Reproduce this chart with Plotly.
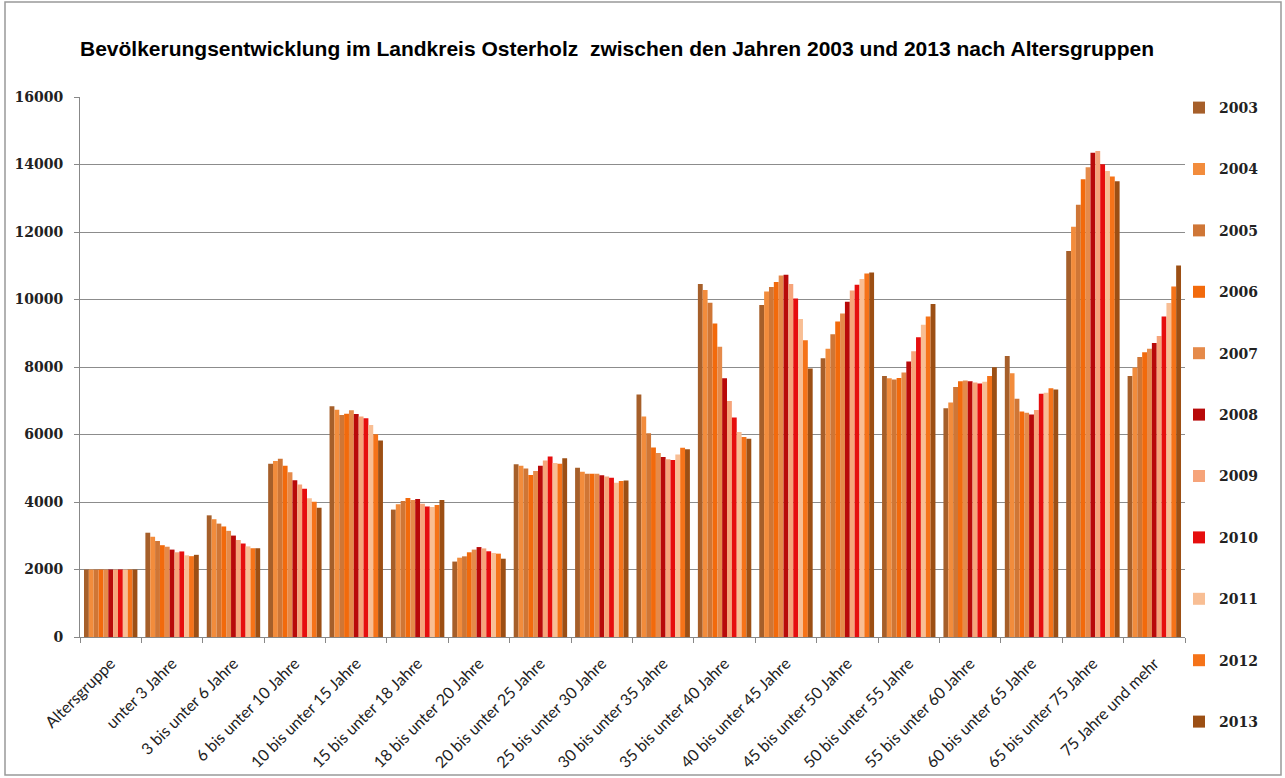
import plotly.graph_objects as go

categories = ["Altersgruppe", "unter 3 Jahre", "3 bis unter 6 Jahre", "6 bis unter 10 Jahre",
              "10 bis unter 15 Jahre", "15 bis unter 18 Jahre", "18 bis unter 20 Jahre",
              "20 bis unter 25 Jahre", "25 bis unter 30 Jahre", "30 bis unter 35 Jahre",
              "35 bis unter 40 Jahre", "40 bis unter 45 Jahre", "45 bis unter 50 Jahre",
              "50 bis unter 55 Jahre", "55 bis unter 60 Jahre", "60 bis unter 65 Jahre",
              "65 bis unter 75 Jahre", "75 Jahre und mehr"]

years = ["2003", "2004", "2005", "2006", "2007", "2008", "2009", "2010", "2011", "2012", "2013"]

y_ticks = [0, 2000, 4000, 6000, 8000, 10000, 12000, 14000, 16000]

# values per age group, one entry per year 2003..2013
g_alter = [2000, 2000, 2000, 2000, 2000, 2000, 2000, 2000, 2000, 2000, 2000]
g_u3 = [3090, 2970, 2845, 2720, 2675, 2590, 2510, 2535, 2420, 2395, 2435]
g_3_6 = [3605, 3490, 3360, 3275, 3145, 3005, 2875, 2770, 2685, 2630, 2630]
g_6_10 = [5130, 5215, 5280, 5075, 4885, 4645, 4520, 4390, 4110, 4005, 3830]
g_10_15 = [6840, 6730, 6575, 6615, 6720, 6605, 6530, 6480, 6285, 6005, 5825]
g_15_18 = [3775, 3930, 4030, 4115, 4060, 4090, 3950, 3870, 3850, 3910, 4060]
g_18_20 = [2235, 2350, 2390, 2510, 2590, 2665, 2625, 2540, 2490, 2470, 2320]
g_20_25 = [5115, 5075, 4995, 4800, 4915, 5075, 5230, 5350, 5155, 5135, 5295]
g_25_30 = [5015, 4895, 4835, 4835, 4835, 4795, 4755, 4715, 4570, 4620, 4640]
g_30_35 = [7185, 6535, 6040, 5615, 5455, 5330, 5265, 5245, 5410, 5605, 5565]
g_35_40 = [10460, 10280, 9905, 9290, 8600, 7665, 6995, 6505, 6075, 5925, 5875]
g_40_45 = [9840, 10240, 10370, 10520, 10710, 10735, 10460, 10030, 9425, 8795, 7955]
g_45_50 = [8260, 8540, 8970, 9345, 9585, 9930, 10270, 10435, 10605, 10770, 10800]
g_50_55 = [7735, 7670, 7630, 7675, 7840, 8160, 8465, 8880, 9250, 9500, 9865]
g_55_60 = [6780, 6950, 7410, 7575, 7600, 7580, 7540, 7510, 7560, 7735, 7990]
g_60_65 = [8325, 7815, 7060, 6680, 6645, 6595, 6725, 7205, 7240, 7370, 7330]
g_65_75 = [11440, 12155, 12805, 13560, 13920, 14345, 14400, 14005, 13805, 13645, 13500]
g_75 = [7735, 7985, 8295, 8440, 8540, 8710, 8920, 9500, 9900, 10385, 11005]

groups = [g_alter, g_u3, g_3_6, g_6_10, g_10_15, g_15_18, g_18_20, g_20_25, g_25_30,
          g_30_35, g_35_40, g_40_45, g_45_50, g_50_55, g_55_60, g_60_65, g_65_75, g_75]

colors = ["#A65F2A", "#F28C3C", "#CF7636", "#F26A0C", "#E58A4A", "#B80A0A",
          "#F6A47A", "#E60E0E", "#F8BE94", "#F57319", "#9C4F14"]

W, H = 1285, 778
L, R, T, B = 80, 100, 97, 141
PW, PH = W - L - R, H - T - B

fig = go.Figure()
for i, yr in enumerate(years):
    fig.add_trace(go.Bar(
        x=categories,
        y=[g[i] for g in groups],
        name=yr,
        legendgroup=yr,
        marker=dict(color=colors[i], line=dict(width=0)),
    ))

fig.update_layout(
    width=W, height=H,
    paper_bgcolor="white", plot_bgcolor="white",
    margin=dict(l=L, r=R, t=T, b=B, autoexpand=False),
    barmode="group", bargap=0.13, bargroupgap=0,
    title=dict(
        text="<b>Bevölkerungsentwicklung im Landkreis Osterholz  zwischen den Jahren 2003 und 2013 nach Altersgruppen</b>",
        font=dict(family="Liberation Sans, Arial", size=21, color="black"),
        x=617 / W, xanchor="center", xref="container",
        y=1 - 49 / H, yanchor="middle", yref="container",
    ),
    legend=dict(
        x=(1179 - L) / PW, xanchor="left", xref="paper",
        y=(T + PH - 92) / PH, yanchor="top", yref="paper",
        maxheight=760,
        font=dict(family="DejaVu Serif, serif", size=14, color="#222", weight="bold"),
        tracegroupgap=40.2,
        itemwidth=30,
        bgcolor="rgba(0,0,0,0)",
    ),
    showlegend=True,
)

fig.update_xaxes(
    type="category",
    tickangle=-45,
    tickfont=dict(family="Lato, Noto Sans, sans-serif", size=16, color="#222"),
    ticklabelstandoff=10,
    showline=True, linecolor="#888", linewidth=1,
    ticks="outside", ticklen=5, tickcolor="#888",
    tickson="boundaries",
    showgrid=False,
    automargin=False,
)
fig.update_yaxes(
    range=[0, 16000],
    tickvals=y_ticks,
    ticktext=[str(v) for v in y_ticks],
    tickfont=dict(family="DejaVu Serif, serif", size=14, color="#222", weight="bold"),
    ticklabelstandoff=8,
    showline=True, linecolor="#888", linewidth=1,
    ticks="outside", ticklen=5, tickcolor="#888",
    showgrid=True, gridcolor="#8c8c8c", gridwidth=1,
    zeroline=False,
    automargin=False,
)

# outer frame of the chart area
fig.add_shape(type="rect", xref="paper", yref="paper",
              x0=(5 - L) / PW, x1=(1281 - L) / PW,
              y0=(T + PH - 775) / PH, y1=(T + PH - 2) / PH,
              line=dict(color="#999", width=1.5), fillcolor="rgba(0,0,0,0)", layer="below")

fig.write_html("out.html", config={"displayModeBar": False},
               post_script="document.body.style.margin='0';")
